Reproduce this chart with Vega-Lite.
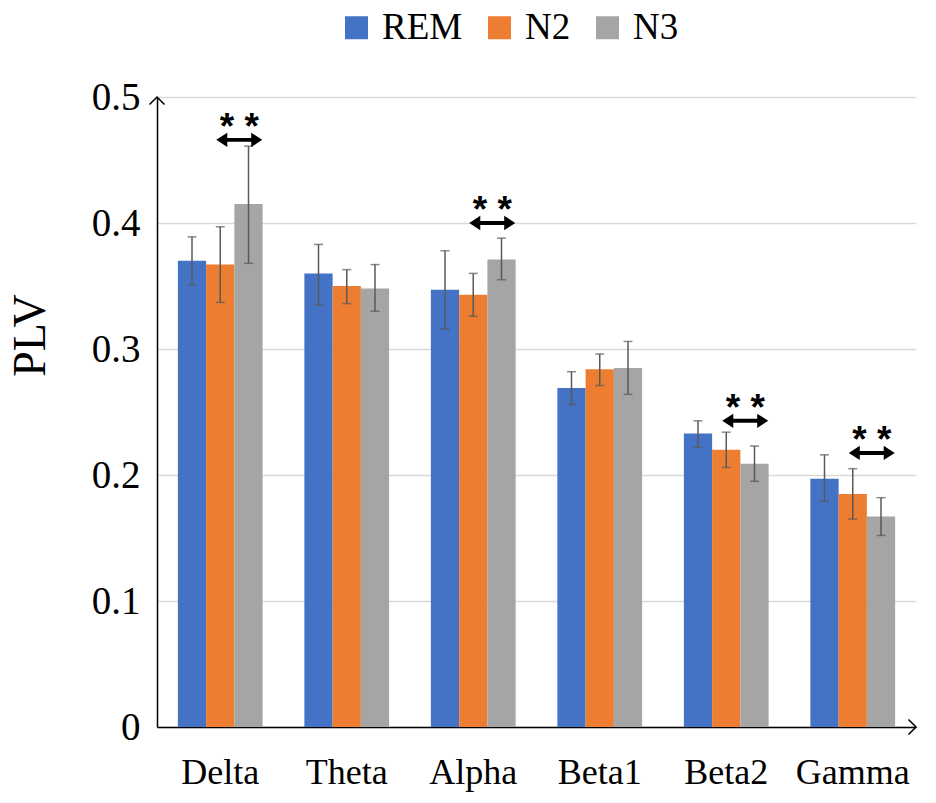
{
  "$schema": "https://vega.github.io/schema/vega-lite/v6.json",
  "autosize": "none",
  "width": 759,
  "height": 630,
  "padding": {"left": 157, "top": 97, "right": 20, "bottom": 76},
  "background": "white",
  "datasets": {
    "plv": [
      {"band": "Delta", "stage": "REM", "mean": 0.370, "lo": 0.351, "hi": 0.389},
      {"band": "Delta", "stage": "N2", "mean": 0.367, "lo": 0.337, "hi": 0.397},
      {"band": "Delta", "stage": "N3", "mean": 0.415, "lo": 0.368, "hi": 0.461},
      {"band": "Theta", "stage": "REM", "mean": 0.360, "lo": 0.335, "hi": 0.383},
      {"band": "Theta", "stage": "N2", "mean": 0.350, "lo": 0.336, "hi": 0.363},
      {"band": "Theta", "stage": "N3", "mean": 0.348, "lo": 0.330, "hi": 0.367},
      {"band": "Alpha", "stage": "REM", "mean": 0.347, "lo": 0.316, "hi": 0.378},
      {"band": "Alpha", "stage": "N2", "mean": 0.343, "lo": 0.326, "hi": 0.360},
      {"band": "Alpha", "stage": "N3", "mean": 0.371, "lo": 0.355, "hi": 0.388},
      {"band": "Beta1", "stage": "REM", "mean": 0.269, "lo": 0.256, "hi": 0.282},
      {"band": "Beta1", "stage": "N2", "mean": 0.284, "lo": 0.271, "hi": 0.296},
      {"band": "Beta1", "stage": "N3", "mean": 0.285, "lo": 0.264, "hi": 0.306},
      {"band": "Beta2", "stage": "REM", "mean": 0.233, "lo": 0.222, "hi": 0.243},
      {"band": "Beta2", "stage": "N2", "mean": 0.220, "lo": 0.206, "hi": 0.234},
      {"band": "Beta2", "stage": "N3", "mean": 0.209, "lo": 0.195, "hi": 0.223},
      {"band": "Gamma", "stage": "REM", "mean": 0.197, "lo": 0.179, "hi": 0.216},
      {"band": "Gamma", "stage": "N2", "mean": 0.185, "lo": 0.165, "hi": 0.205},
      {"band": "Gamma", "stage": "N3", "mean": 0.167, "lo": 0.152, "hi": 0.182}
    ],
    "sig": [
      {"band": "Delta", "y": 0.466, "label": "* *"},
      {"band": "Alpha", "y": 0.400, "label": "* *"},
      {"band": "Beta2", "y": 0.243, "label": "* *"},
      {"band": "Gamma", "y": 0.2175, "label": "* *"}
    ]
  },
  "config": {
    "view": {"stroke": null},
    "font": "Liberation Serif"
  },
  "layer": [
    {
      "data": {"name": "plv"},
      "mark": {"type": "bar"},
      "encoding": {
        "x": {
          "field": "band", "type": "nominal",
          "sort": ["Delta", "Theta", "Alpha", "Beta1", "Beta2", "Gamma"],
          "scale": {"paddingInner": 0.33, "paddingOuter": 0.165},
          "axis": {
            "title": null, "labelAngle": 0, "labelFont": "Liberation Serif",
            "labelFontSize": 36, "labelColor": "black", "labelPadding": 28,
            "ticks": false, "domainColor": "black", "domainWidth": 1.5, "grid": false
          }
        },
        "xOffset": {"field": "stage", "sort": ["REM", "N2", "N3"]},
        "y": {
          "field": "mean", "type": "quantitative",
          "scale": {"domain": [0, 0.5], "nice": false},
          "axis": {
            "title": "PLV", "titleFont": "Liberation Serif", "titleFontSize": 46,
            "titleFontWeight": "normal", "titleColor": "black",
            "titleAngle": -90, "titleX": -127, "titleY": 238, "titleBaseline": "middle", "titleAlign": "center",
            "values": [0, 0.1, 0.2, 0.3, 0.4, 0.5], "format": "~g",
            "labelFont": "Liberation Serif", "labelFontSize": 39, "labelColor": "black",
            "labelPadding": 17, "ticks": false,
            "domainColor": "black", "domainWidth": 1.5,
            "grid": true, "gridColor": "#d9d9d9", "gridWidth": 1.5
          }
        },
        "color": {
          "field": "stage", "type": "nominal",
          "sort": ["REM", "N2", "N3"],
          "scale": {"domain": ["REM", "N2", "N3"], "range": ["#4472C4", "#ED7D31", "#A5A5A5"]},
          "legend": {
            "title": null, "orient": "none", "direction": "horizontal",
            "legendX": 181, "legendY": -88,
            "symbolType": "square", "symbolSize": 529, "symbolStrokeWidth": 0,
            "labelFont": "Liberation Serif", "labelFontSize": 37, "labelColor": "black",
            "labelOffset": 7, "columnPadding": 18
          }
        }
      }
    },
    {
      "data": {"name": "plv"},
      "mark": {"type": "rule", "color": "#595959", "strokeWidth": 1.5},
      "encoding": {
        "x": {"field": "band", "type": "nominal", "sort": ["Delta", "Theta", "Alpha", "Beta1", "Beta2", "Gamma"]},
        "xOffset": {"field": "stage", "sort": ["REM", "N2", "N3"]},
        "y": {"field": "lo", "type": "quantitative"},
        "y2": {"field": "hi"}
      }
    },
    {
      "data": {"name": "plv"},
      "mark": {"type": "tick", "color": "#595959", "thickness": 1.5, "size": 9},
      "encoding": {
        "x": {"field": "band", "type": "nominal", "sort": ["Delta", "Theta", "Alpha", "Beta1", "Beta2", "Gamma"]},
        "xOffset": {"field": "stage", "sort": ["REM", "N2", "N3"]},
        "y": {"field": "lo", "type": "quantitative"}
      }
    },
    {
      "data": {"name": "plv"},
      "mark": {"type": "tick", "color": "#595959", "thickness": 1.5, "size": 9},
      "encoding": {
        "x": {"field": "band", "type": "nominal", "sort": ["Delta", "Theta", "Alpha", "Beta1", "Beta2", "Gamma"]},
        "xOffset": {"field": "stage", "sort": ["REM", "N2", "N3"]},
        "y": {"field": "hi", "type": "quantitative"}
      }
    },
    {
      "data": {"name": "sig"},
      "mark": {
        "type": "point", "filled": true, "color": "black", "opacity": 1, "strokeWidth": 0,
        "size": 2116, "xOffset": 19,
        "shape": "M-1,0L-0.52,-0.31L-0.52,-0.085L0.52,-0.085L0.52,-0.31L1,0L0.52,0.31L0.52,0.085L-0.52,0.085L-0.52,0.31Z"
      },
      "encoding": {
        "x": {"field": "band", "type": "nominal", "sort": ["Delta", "Theta", "Alpha", "Beta1", "Beta2", "Gamma"]},
        "y": {"field": "y", "type": "quantitative"}
      }
    },
    {
      "data": {"name": "sig"},
      "mark": {
        "type": "text", "font": "Liberation Sans", "fontWeight": "bold", "fontSize": 37,
        "color": "black", "baseline": "alphabetic", "align": "center", "dy": -1, "xOffset": 19
      },
      "encoding": {
        "x": {"field": "band", "type": "nominal", "sort": ["Delta", "Theta", "Alpha", "Beta1", "Beta2", "Gamma"]},
        "y": {"field": "y", "type": "quantitative"},
        "text": {"field": "label"}
      }
    },
    {
      "data": {"values": [{"tip": 0.5}]},
      "mark": {"type": "point", "filled": false, "color": "black", "strokeWidth": 1.5, "opacity": 1, "size": 225, "shape": "M-1,1L0,0L1,1"},
      "encoding": {
        "x": {"value": 0},
        "y": {"field": "tip", "type": "quantitative"}
      }
    },
    {
      "data": {"values": [{"tip": 0}]},
      "mark": {"type": "point", "filled": false, "color": "black", "strokeWidth": 1.5, "opacity": 1, "size": 225, "shape": "M-1,-1L0,0L-1,1"},
      "encoding": {
        "x": {"value": "width"},
        "y": {"field": "tip", "type": "quantitative"}
      }
    }
  ]
}
